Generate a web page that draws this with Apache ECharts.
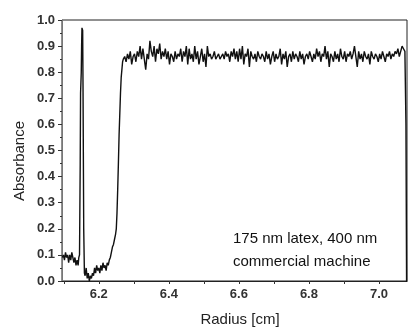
<!DOCTYPE html>
<html>
<head>
<meta charset="utf-8">
<script src="https://cdn.jsdelivr.net/npm/echarts@6/dist/echarts.min.js"></script>
<style>html,body{margin:0;padding:0;background:#fff}#c{width:412px;height:329px}</style>
</head>
<body>
<div id="c"></div>
<script>
// Radius [cm] vs Absorbance
const xLabelValues = [6.2, 6.4, 6.6, 6.8, 7.0];
const xTickValues = [6.1, 6.2, 6.3, 6.4, 6.5, 6.6, 6.7, 6.8, 6.9, 7.0];
const annotationLines = ['175 nm latex, 400 nm', 'commercial machine'];

const baseline = [[6.096,0.09],[6.099,0.10],[6.102,0.08],[6.105,0.11],[6.108,0.09],[6.111,0.10],[6.114,0.07],[6.117,0.10],[6.120,0.08],[6.123,0.11],[6.126,0.09],[6.129,0.07],[6.132,0.09],[6.135,0.06],[6.138,0.08],[6.141,0.06],[6.143,0.09]];
const spike = [[6.145,0.10],[6.147,0.45],[6.148,0.72],[6.150,0.80],[6.151,0.90],[6.152,0.97],[6.154,0.96],[6.155,0.75],[6.157,0.20],[6.159,0.03]];
const trough = [[6.161,0.02],[6.164,0.05],[6.167,0.01],[6.170,0.03],[6.173,0.00],[6.176,0.02],[6.179,0.01],[6.182,0.03],[6.185,0.02],[6.188,0.05],[6.191,0.03],[6.194,0.06],[6.197,0.04],[6.200,0.05],[6.203,0.03],[6.206,0.06],[6.209,0.04],[6.212,0.07],[6.215,0.05],[6.218,0.06],[6.221,0.04],[6.224,0.07],[6.227,0.06],[6.230,0.08]];
const rise = [[6.233,0.09],[6.236,0.11],[6.239,0.13],[6.242,0.14],[6.245,0.16],[6.248,0.18],[6.250,0.20],[6.252,0.26],[6.254,0.35],[6.256,0.45],[6.258,0.56],[6.260,0.64],[6.262,0.72],[6.264,0.78],[6.266,0.81],[6.268,0.84],[6.270,0.85]];
const plateau = [
[6.274,0.86],[6.278,0.84],[6.282,0.87],[6.286,0.85],[6.290,0.88],[6.294,0.83],[6.298,0.86],[6.302,0.87],[6.306,0.84],[6.310,0.88],
[6.314,0.86],[6.318,0.90],[6.322,0.85],[6.326,0.89],[6.330,0.89],[6.334,0.81],[6.338,0.87],[6.342,0.85],[6.346,0.92],[6.350,0.88],
[6.354,0.86],[6.358,0.90],[6.362,0.84],[6.366,0.89],[6.370,0.87],[6.374,0.91],[6.378,0.85],[6.382,0.88],[6.386,0.86],[6.390,0.89],
[6.394,0.85],[6.398,0.88],[6.402,0.83],[6.406,0.87],[6.410,0.86],[6.414,0.84],[6.418,0.88],[6.422,0.85],[6.426,0.87],[6.430,0.86],
[6.434,0.89],[6.438,0.84],[6.442,0.88],[6.446,0.86],[6.450,0.90],[6.454,0.83],[6.458,0.89],[6.462,0.85],[6.466,0.87],[6.470,0.84],
[6.474,0.90],[6.478,0.85],[6.482,0.88],[6.486,0.83],[6.490,0.86],[6.494,0.89],[6.498,0.84],[6.502,0.87],[6.506,0.82],[6.510,0.90],
[6.514,0.86],[6.518,0.87],[6.522,0.85],[6.526,0.86],[6.530,0.88],[6.534,0.85],[6.538,0.86],[6.542,0.87],[6.546,0.85],[6.550,0.86],
[6.554,0.87],[6.558,0.85],[6.562,0.88],[6.566,0.86],[6.570,0.87],[6.574,0.84],[6.578,0.88],[6.582,0.86],[6.586,0.89],[6.590,0.85],
[6.594,0.88],[6.598,0.84],[6.602,0.89],[6.606,0.85],[6.610,0.90],[6.614,0.83],[6.618,0.87],[6.622,0.86],[6.626,0.89],[6.630,0.82],
[6.634,0.88],[6.638,0.86],[6.642,0.85],[6.646,0.87],[6.650,0.84],[6.654,0.88],[6.658,0.86],[6.662,0.85],[6.666,0.87],[6.670,0.86],
[6.674,0.84],[6.678,0.88],[6.682,0.85],[6.686,0.87],[6.690,0.83],[6.694,0.86],[6.698,0.88],[6.702,0.84],[6.706,0.87],[6.710,0.85],
[6.714,0.86],[6.718,0.89],[6.722,0.83],[6.726,0.87],[6.730,0.85],[6.734,0.88],[6.738,0.82],[6.742,0.86],[6.746,0.87],[6.750,0.84],
[6.754,0.88],[6.758,0.85],[6.762,0.87],[6.766,0.86],[6.770,0.84],[6.774,0.88],[6.778,0.85],[6.782,0.87],[6.786,0.83],[6.790,0.86],
[6.794,0.87],[6.798,0.85],[6.802,0.88],[6.806,0.86],[6.810,0.84],[6.814,0.87],[6.818,0.85],[6.822,0.89],[6.826,0.86],[6.830,0.88],
[6.834,0.84],[6.838,0.87],[6.842,0.86],[6.846,0.90],[6.850,0.85],[6.854,0.88],[6.858,0.82],[6.862,0.87],[6.866,0.86],[6.870,0.84],
[6.874,0.88],[6.878,0.85],[6.882,0.87],[6.886,0.84],[6.890,0.89],[6.894,0.86],[6.898,0.85],[6.902,0.88],[6.906,0.84],[6.910,0.87],
[6.914,0.86],[6.918,0.88],[6.922,0.85],[6.926,0.87],[6.930,0.90],[6.934,0.86],[6.938,0.82],[6.942,0.88],[6.946,0.85],[6.950,0.87],
[6.954,0.84],[6.958,0.88],[6.962,0.86],[6.966,0.85],[6.970,0.87],[6.974,0.83],[6.978,0.88],[6.982,0.86],[6.986,0.85],[6.990,0.87],
[6.994,0.86],[6.998,0.84],[7.002,0.87],[7.006,0.85],[7.010,0.88],[7.014,0.86],[7.018,0.84],[7.022,0.87],[7.026,0.86],[7.030,0.88],
[7.034,0.85],[7.038,0.87],[7.042,0.86],[7.046,0.88],[7.050,0.87],[7.054,0.89],[7.058,0.86],[7.062,0.88],[7.066,0.90],[7.070,0.89]
];
const tail = [[7.074,0.88],[7.077,0.60],[7.079,-0.05]];

const FONT = 'Liberation Sans, Arial, sans-serif';
const chart = echarts.init(document.getElementById('c'), null, {renderer: 'canvas'});
chart.setOption({
  animation: false,
  backgroundColor: '#fff',
  grid: {left: 62, right: 5, top: 20, bottom: 48, show: true, borderColor: '#222', borderWidth: 1, backgroundColor: 'transparent'},
  xAxis: {
    type: 'value', min: 6.095, max: 7.08,
    axisLine: {show: true, onZero: false, lineStyle: {color: '#222', width: 1}},
    axisTick: {show: true, inside: false, length: 3, customValues: xTickValues, lineStyle: {color: '#333'}},
    axisLabel: {customValues: xLabelValues, formatter: v => v.toFixed(1), margin: 7, fontFamily: FONT, fontSize: 13, fontWeight: 'bold', color: '#333'},
    splitLine: {show: false}
  },
  yAxis: {
    type: 'value', min: 0, max: 1, interval: 0.1,
    axisLine: {show: true, lineStyle: {color: '#777', width: 1}},
    axisTick: {show: true, inside: false, length: 4, lineStyle: {color: '#333'}},
    minorTick: {show: true, splitNumber: 2, length: 2, lineStyle: {color: '#333'}},
    axisLabel: {formatter: v => v.toFixed(1), margin: 7, fontFamily: FONT, fontSize: 13, fontWeight: 'bold', color: '#333'},
    splitLine: {show: false}
  },
  series: [{
    type: 'line', showSymbol: false, clip: true,
    data: [].concat(baseline, spike, trough, rise, plateau, tail),
    lineStyle: {color: '#111', width: 1.4}
  }],
  graphic: [
    {type: 'text', x: 20, y: 161, rotation: Math.PI / 2, style: {text: 'Absorbance', font: '15px ' + FONT, fill: '#222', textAlign: 'center', textVerticalAlign: 'middle'}},
    {type: 'text', x: 240, y: 320, style: {text: 'Radius [cm]', font: '15px ' + FONT, fill: '#222', textAlign: 'center', textVerticalAlign: 'middle'}},
    {type: 'text', x: 233, y: 239, style: {text: annotationLines[0], font: '15px ' + FONT, fill: '#111', textAlign: 'left', textVerticalAlign: 'middle'}},
    {type: 'text', x: 233, y: 262, style: {text: annotationLines[1], font: '15px ' + FONT, fill: '#111', textAlign: 'left', textVerticalAlign: 'middle'}}
  ]
});
</script>
</body>
</html>
